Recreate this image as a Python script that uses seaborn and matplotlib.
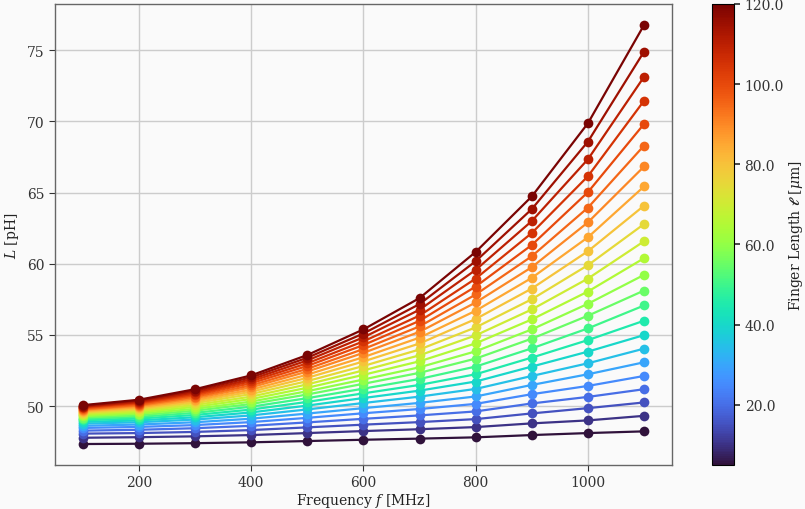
import numpy as np
import pandas as pd
import seaborn as sns
import matplotlib
matplotlib.use("Agg")
import matplotlib.pyplot as plt
from matplotlib.colors import Normalize
from matplotlib.cm import ScalarMappable

# frequencies [MHz] and finger lengths [um]
freqs = [100, 200, 300, 400, 500, 600, 700, 800, 900, 1000, 1100]
lengths = [5, 10, 15, 20, 25, 30, 35, 40, 45, 50, 55, 60,
           65, 70, 75, 80, 85, 90, 95, 100, 105, 110, 115, 120]

# inductance [pH] per frequency, ordered like `lengths`
L_f100 = [47.34, 47.78, 48.07, 48.28, 48.47, 48.62, 48.77, 48.89, 49.01, 49.11, 49.20, 49.30,
          49.38, 49.46, 49.54, 49.61, 49.67, 49.74, 49.79, 49.86, 49.92, 49.96, 50.02, 50.07]
L_f200 = [47.36, 47.82, 48.11, 48.34, 48.54, 48.71, 48.87, 49.00, 49.13, 49.25, 49.36, 49.47,
          49.57, 49.67, 49.77, 49.85, 49.93, 50.02, 50.09, 50.18, 50.25, 50.31, 50.39, 50.45]
L_f300 = [47.40, 47.88, 48.19, 48.45, 48.67, 48.87, 49.06, 49.22, 49.38, 49.53, 49.68, 49.81,
          49.95, 50.08, 50.21, 50.33, 50.44, 50.56, 50.67, 50.78, 50.88, 50.98, 51.09, 51.19]
L_f400 = [47.46, 47.97, 48.32, 48.62, 48.88, 49.12, 49.35, 49.56, 49.76, 49.96, 50.15, 50.32,
          50.50, 50.67, 50.85, 51.01, 51.16, 51.32, 51.46, 51.61, 51.75, 51.88, 52.02, 52.16]
L_f500 = [47.55, 48.11, 48.51, 48.86, 49.18, 49.48, 49.77, 50.04, 50.30, 50.56, 50.82, 51.05,
          51.29, 51.53, 51.76, 51.99, 52.21, 52.43, 52.62, 52.82, 53.01, 53.21, 53.40, 53.59]
L_f600 = [47.64, 48.25, 48.70, 49.11, 49.50, 49.86, 50.22, 50.57, 50.90, 51.23, 51.57, 51.87,
          52.20, 52.51, 52.82, 53.14, 53.44, 53.74, 54.01, 54.29, 54.55, 54.83, 55.10, 55.39]
L_f700 = [47.72, 48.38, 48.88, 49.35, 49.80, 50.23, 50.67, 51.09, 51.49, 51.91, 52.34, 52.73,
          53.15, 53.57, 53.98, 54.40, 54.81, 55.22, 55.60, 55.99, 56.36, 56.77, 57.17, 57.59]
L_f800 = [47.81, 48.53, 49.09, 49.63, 50.16, 50.68, 51.21, 51.73, 52.24, 52.78, 53.34, 53.85,
          54.41, 54.97, 55.53, 56.12, 56.70, 57.28, 57.84, 58.40, 58.96, 59.57, 60.18, 60.83]
L_f900 = [47.97, 48.79, 49.49, 50.19, 50.84, 51.49, 52.12, 52.78, 53.41, 54.06, 54.74, 55.39,
          56.09, 56.79, 57.51, 58.26, 59.01, 59.76, 60.53, 61.32, 62.16, 63.00, 63.84, 64.73]
L_f1000 = [48.11, 49.00, 49.86, 50.65, 51.42, 52.24, 53.01, 53.83, 54.64, 55.46, 56.35, 57.19,
           58.05, 58.96, 59.90, 60.88, 61.86, 62.91, 63.94, 65.03, 66.15, 67.34, 68.58, 69.87]
L_f1100 = [48.23, 49.32, 50.26, 51.19, 52.12, 53.08, 54.04, 54.99, 56.00, 57.07, 58.12, 59.22,
           60.39, 61.58, 62.79, 64.08, 65.43, 66.83, 68.30, 69.82, 71.45, 73.13, 74.90, 76.77]

L_all = [L_f100, L_f200, L_f300, L_f400, L_f500, L_f600,
         L_f700, L_f800, L_f900, L_f1000, L_f1100]

rows = []
for f, vals in zip(freqs, L_all):
    for ell, v in zip(lengths, vals):
        rows.append({"freq": f, "length": ell, "L": v})
df = pd.DataFrame(rows)

sns.set_theme(style="whitegrid")
bg = "#fafafa"
plt.rcParams.update({
    "font.family": ["DejaVu Serif"],
    "mathtext.fontset": "dejavuserif",
    "figure.facecolor": bg,
    "axes.facecolor": bg,
    "axes.edgecolor": "#666666",
    "grid.color": "#cccccc",
    "xtick.bottom": True,
    "ytick.left": True,
    "xtick.color": "#333333",
    "ytick.color": "#333333",
})

fig = plt.figure(figsize=(8.05, 5.1), dpi=100)
ax = fig.add_axes([0.068, 0.0863, 0.767, 0.904])
cax = fig.add_axes([0.884, 0.0863, 0.028, 0.904])

norm = Normalize(vmin=5, vmax=120)
sns.lineplot(data=df, x="freq", y="L", hue="length", palette="turbo",
             hue_norm=norm, marker="o", markersize=7, markeredgewidth=0,
             linewidth=1.6, legend=False, ax=ax)

ax.set_xlabel("Frequency $f$ [MHz]", fontsize=10, color="#222222", labelpad=1)
ax.set_ylabel("$L$ [pH]", fontsize=10, color="#222222")
ax.tick_params(labelsize=10, length=4, width=0.8, colors="#333333")
ax.set_xticks([200, 400, 600, 800, 1000])
ax.set_yticks([50, 55, 60, 65, 70, 75])
for s in ax.spines.values():
    s.set_linewidth(1.0)

cb = fig.colorbar(ScalarMappable(norm=norm, cmap="turbo"), cax=cax,
                  ticks=[20, 40, 60, 80, 100, 120], format="%.1f")
cb.outline.set_edgecolor("black")
cb.outline.set_linewidth(0.8)
cb.ax.tick_params(labelsize=10, length=4, colors="#333333")
cb.set_label(r"Finger Length $\boldsymbol{\ell}$ [$\mu$m]", fontsize=10,
             color="#222222", labelpad=2)

fig.savefig("out.png", dpi=100, facecolor=bg)
